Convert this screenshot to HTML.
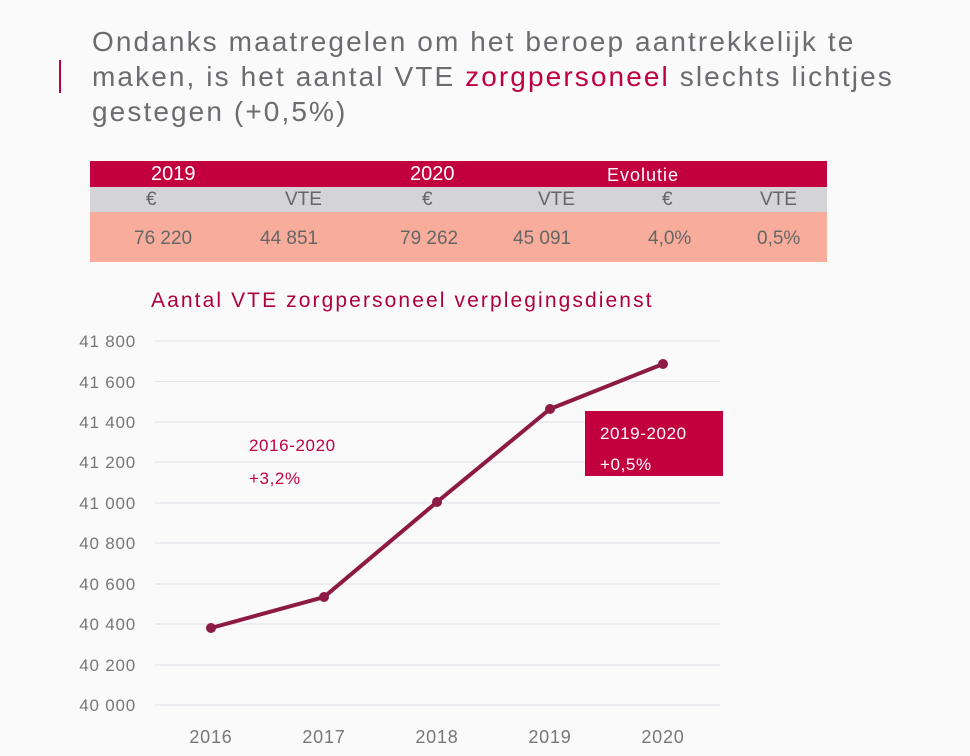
<!DOCTYPE html>
<html><head><style>
body{margin:0;width:970px;height:756px;background:#fbfafa;font-family:"Liberation Sans",sans-serif;position:relative;overflow:hidden}
.t{position:absolute;white-space:nowrap}
</style></head><body>
<div style="position:absolute;left:59px;top:60px;width:2px;height:33px;background:#c0003f"></div>
<div class="t" style="left:92px;top:24px;font-size:28px;letter-spacing:2.1px;line-height:35px;color:#6b6b70">Ondanks maatregelen om het beroep aantrekkelijk te<br>maken, is het aantal VTE <span style="color:#c0003f">zorgpersoneel</span> slechts lichtjes<br>gestegen (+0,5%)</div>
<div style="position:absolute;left:90px;top:161px;width:737px;height:26px;background:#c3003f"></div>
<div style="position:absolute;left:90px;top:187px;width:737px;height:25px;background:#d3d3d8"></div>
<div style="position:absolute;left:90px;top:212px;width:737px;height:50px;background:#f8ad9c"></div>
<div class="t" style="left:151px;top:163px;font-size:20px;color:#fff">2019</div>
<div class="t" style="left:410px;top:163px;font-size:20px;color:#fff">2020</div>
<div class="t" style="left:607px;top:165px;font-size:18px;letter-spacing:1px;color:#fff">Evolutie</div>
<div style="position:absolute;top:189px;font-size:19px;color:#666;width:100%">
<span class="t" style="left:146px">€</span><span class="t" style="left:285px">VTE</span><span class="t" style="left:422px">€</span><span class="t" style="left:538px">VTE</span><span class="t" style="left:662px">€</span><span class="t" style="left:760px">VTE</span></div>
<div style="position:absolute;top:228px;font-size:19px;color:#666;width:100%">
<span class="t" style="left:134px">76 220</span><span class="t" style="left:260px">44 851</span><span class="t" style="left:400px">79 262</span><span class="t" style="left:513px">45 091</span><span class="t" style="left:648px">4,0%</span><span class="t" style="left:757px">0,5%</span></div>
<div class="t" style="left:151px;top:289px;font-size:21px;letter-spacing:2.1px;color:#b0003a">Aantal VTE zorgpersoneel verplegingsdienst</div>
<svg style="position:absolute;left:0;top:0" width="970" height="756">
<g stroke="#e2e5ea" stroke-width="1.2">
<line x1="155" x2="720" y1="341" y2="341"/><line x1="155" x2="720" y1="381.5" y2="381.5"/><line x1="155" x2="720" y1="422" y2="422"/><line x1="155" x2="720" y1="462" y2="462"/><line x1="155" x2="720" y1="503" y2="503"/><line x1="155" x2="720" y1="543" y2="543"/><line x1="155" x2="720" y1="584" y2="584"/><line x1="155" x2="720" y1="624" y2="624"/><line x1="155" x2="720" y1="665" y2="665"/><line x1="155" x2="720" y1="705" y2="705"/>
</g>
<g font-size="17" fill="#777" text-anchor="end" font-family="Liberation Sans" letter-spacing="0.8">
<text x="136" y="347">41 800</text><text x="136" y="388">41 600</text><text x="136" y="428">41 400</text><text x="136" y="468">41 200</text><text x="136" y="509">41 000</text><text x="136" y="549">40 800</text><text x="136" y="590">40 600</text><text x="136" y="630">40 400</text><text x="136" y="671">40 200</text><text x="136" y="711">40 000</text>
</g>
<g font-size="18" fill="#777" text-anchor="middle" font-family="Liberation Sans" letter-spacing="0.8">
<text x="211" y="743">2016</text><text x="324" y="743">2017</text><text x="437" y="743">2018</text><text x="550" y="743">2019</text><text x="663" y="743">2020</text>
</g>
<polyline points="211,628 324,597 437,502 550,409 663,364" fill="none" stroke="#8c1a42" stroke-width="4"/>
<g fill="#8c1a42"><circle cx="211" cy="628" r="5"/><circle cx="324" cy="597" r="5"/><circle cx="437" cy="502" r="5"/><circle cx="550" cy="409" r="5"/><circle cx="663" cy="364" r="5"/></g>
<rect x="585" y="411" width="138" height="65" fill="#c3003f"/>
<g font-family="Liberation Sans" font-size="17" letter-spacing="0.6">
<text x="249" y="451" fill="#c0003f">2016-2020</text><text x="249" y="484" fill="#c0003f">+3,2%</text>
<text x="600" y="439" fill="#fff">2019-2020</text><text x="600" y="470" fill="#fff">+0,5%</text>
</g>
</svg>
</body></html>
